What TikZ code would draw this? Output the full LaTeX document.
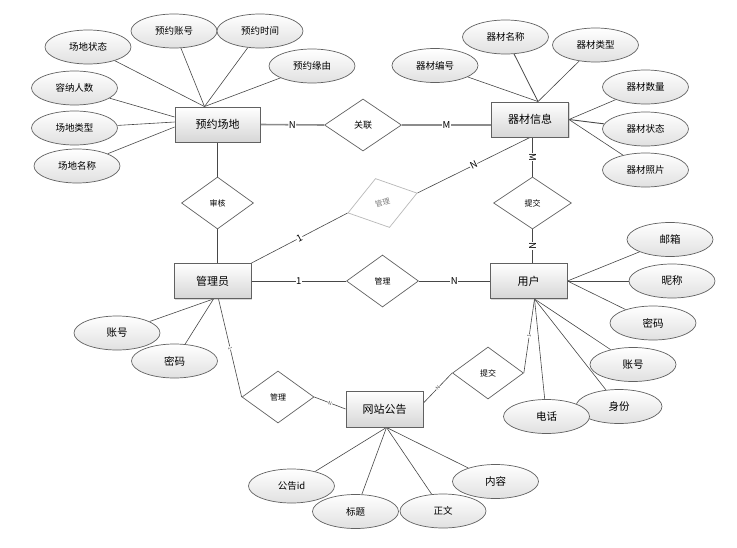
\documentclass[tikz,border=0pt]{standalone}
\usepackage{fontspec}
\setmainfont{Noto Sans CJK SC}
\usetikzlibrary{shapes.geometric,shadows,calc}
\pgfdeclarelayer{bg}
\pgfsetlayers{bg,main}
\begin{document}
\begin{tikzpicture}[x=1pt,y=-1pt,
 ent/.style={rectangle,draw=black!62,line width=0.9pt,top color=white,bottom color=black!16,minimum width=77pt,minimum height=35pt,inner sep=0pt,font=\fontsize{11}{13}\selectfont,drop shadow={shadow xshift=1.3pt,shadow yshift=-1.3pt,opacity=0.3}},
 attr/.style={ellipse,draw=black!62,line width=0.7pt,top color=white,bottom color=black!12,minimum width=86pt,minimum height=34pt,inner sep=0pt,font=\fontsize{9.5}{11}\selectfont},
 rel/.style={diamond,draw=black!62,line width=0.7pt,fill=white,minimum width=72pt,minimum height=52pt,inner sep=0pt,font=\fontsize{8}{10}\selectfont},
 conn/.style={draw=black!72,line width=0.6pt},
 thickconn/.style={draw=black!45,line width=1.6pt},
 lbl/.style={fill=white,inner sep=0.5pt,font=\fontsize{9.5}{10}\selectfont,sloped},
 slbl/.style={fill=white,inner sep=0.3pt,font=\fontsize{5}{6}\selectfont,sloped,text=black!70},
]
\useasboundingbox (0,0) rectangle (737,547);

% entities
\node[ent,minimum width=85pt] (ydcd) at (217.5,124.5) {预约场地};
\node[ent] (qcxx) at (530,119.5) {器材信息};
\node[ent] (gly) at (212.5,281) {管理员};
\node[ent] (yh) at (528.5,281) {用户};
\node[ent,minimum height=36pt] (wzgg) at (384.5,409) {网站公告};

% relationships
\node[rel,minimum width=77pt,font=\fontsize{9}{10}\selectfont] (gl1) at (363,125) {关联};
\node[rel] (sh) at (217.5,203) {审核};
\node[rel,minimum width=78pt] (tj1) at (532.5,203) {提交};
\node[rel] (gl2) at (382.5,281) {管理};
\node[rel] (gl3) at (278,397) {管理};
\node[rel,minimum width=71pt] (tj2) at (488,373) {提交};
\node[rel,draw=black!28,text=black!50,rotate=16,minimum width=72pt,minimum height=51pt,font=\fontsize{7.5}{9}\selectfont] (gl4) at (382.5,203) {管理};

% attributes of 预约场地
\node[attr] (cdzt) at (88,47) {场地状态};
\node[attr] (yyzh) at (174,31) {预约账号};
\node[attr] (yysj) at (260,31) {预约时间};
\node[attr] (yyyy) at (312,66) {预约缘由};
\node[attr] (rnrs) at (74.5,88) {容纳人数};
\node[attr] (cdlx) at (74.5,128) {场地类型};
\node[attr] (cdmc) at (77,166) {场地名称};

% attributes of 器材信息
\node[attr] (qcmc) at (505.5,37) {器材名称};
\node[attr] (qclx) at (595.5,45) {器材类型};
\node[attr] (qcbh) at (435,65.5) {器材编号};
\node[attr] (qcsl) at (645.5,87) {器材数量};
\node[attr] (qczt) at (645.5,129) {器材状态};
\node[attr] (qczp) at (645.5,170) {器材照片};

% attributes of 用户
\node[attr,font=\fontsize{10.5}{12}\selectfont] (yx) at (670,239.5) {邮箱};
\node[attr,font=\fontsize{10.5}{12}\selectfont] (nc) at (672,281) {昵称};
\node[attr,font=\fontsize{10.5}{12}\selectfont] (mm) at (653,323) {密码};
\node[attr,font=\fontsize{10.5}{12}\selectfont] (zh) at (633,364.5) {账号};
\node[attr,font=\fontsize{10.5}{12}\selectfont] (sf) at (619,406.5) {身份};
\node[attr,font=\fontsize{10.5}{12}\selectfont] (dh) at (546.5,416.5) {电话};

% attributes of 管理员
\node[attr,font=\fontsize{10.5}{12}\selectfont] (azh) at (117,333) {账号};
\node[attr,font=\fontsize{10.5}{12}\selectfont] (amm) at (174.5,361) {密码};

% attributes of 网站公告
\node[attr] (ggid) at (291.5,486) {公告id};
\node[attr] (bt) at (355.5,511.5) {标题};
\node[attr,font=\fontsize{10.5}{12}\selectfont] (nr) at (495.5,481.5) {内容};
\node[attr] (zw) at (443,511) {正文};

% connection points
\coordinate (ydT) at ($(ydcd.north)+(-13,0)$);
\coordinate (ydL1) at ($(ydcd.west)+(0,-7.5)$);
\coordinate (ydL2) at ($(ydcd.west)+(0,-2.5)$);
\coordinate (ydL3) at ($(ydcd.west)+(0,2.5)$);
\coordinate (qcT) at ($(qcxx.north)+(8,0)$);
\coordinate (qcR) at (qcxx.east);
\coordinate (yhR) at (yh.east);
\coordinate (yhB) at ($(yh.south)+(6,0)$);
\coordinate (glyB1) at ($(gly.south)+(1,0)$);
\coordinate (glyB2) at ($(gly.south)+(6,0)$);
\coordinate (wzB) at ($(wzgg.south)+(2,0)$);

\begin{pgfonlayer}{bg}
\draw[conn] (cdzt) -- (ydT);
\draw[conn] (yyzh) -- (ydT);
\draw[conn] (yysj) -- (ydT);
\draw[conn] (yyyy) -- (ydT);
\draw[conn] (rnrs) -- (ydL1);
\draw[conn] (cdlx) -- (ydL2);
\draw[conn] (cdmc) -- (ydL3);

\draw[conn] (qcbh) -- (qcT);
\draw[conn,line width=0.8pt] (qcmc) -- (qcT);
\draw[conn] (qclx) -- (qcT);
\draw[conn] (qcsl) -- (qcR);
\draw[conn,line width=0.9pt] (qczt) -- (qcR);
\draw[conn] (qczp) -- (qcR);

\draw[conn] (yx) -- (yhR);
\draw[conn] (nc) -- (yhR);
\draw[conn] (mm) -- (yhR);
\draw[conn] (zh) -- (yhB);
\draw[conn] (sf) -- (yhB);
\draw[conn] (dh) -- (yhB);

\draw[conn] (azh) -- (glyB1);
\draw[conn] (amm) -- (glyB1);

\draw[conn] (ggid) -- (wzB);
\draw[conn] (bt) -- (wzB);
\draw[conn] (zw) -- (wzB);
\draw[conn] (nr) -- (wzB);

% relationship connectors
\draw[thickconn] (ydcd.east) -- node[lbl,fill=white] {N} (gl1.west);
\draw[thickconn] (gl1.east) -- node[lbl,fill=white] {M} (gl1.east -| qcxx.west);
\draw[conn] (ydcd.south -| sh.north) -- (sh.north);
\draw[conn] (sh.south) -- (sh.south |- gly.north);
\draw[conn] (gly.north east) -- node[lbl] {1} (gl4.west);
\draw[conn] (gl4.east) -- node[lbl] {N} (qcxx.south);
\draw[conn] (tj1.north |- qcxx.south) -- node[lbl] {M} (tj1.north);
\draw[conn] (tj1.south) -- node[lbl] {N} (tj1.south |- yh.north);
\draw[conn] (gly.east) -- node[lbl] {1} (gl2.west);
\draw[conn] (gl2.east) -- node[lbl] {N} (yh.west);
\draw[conn] (glyB2) -- node[slbl] {1} (gl3.west);
\draw[conn] (gl3.east) -- node[slbl] {N} (wzgg.west);
\draw[conn] ($(wzgg.east)+(0,-6)$) -- node[slbl] {N} (tj2.west);
\draw[conn] (tj2.east) -- node[slbl] {1} (yhB);
\end{pgfonlayer}
\end{tikzpicture}
\end{document}
